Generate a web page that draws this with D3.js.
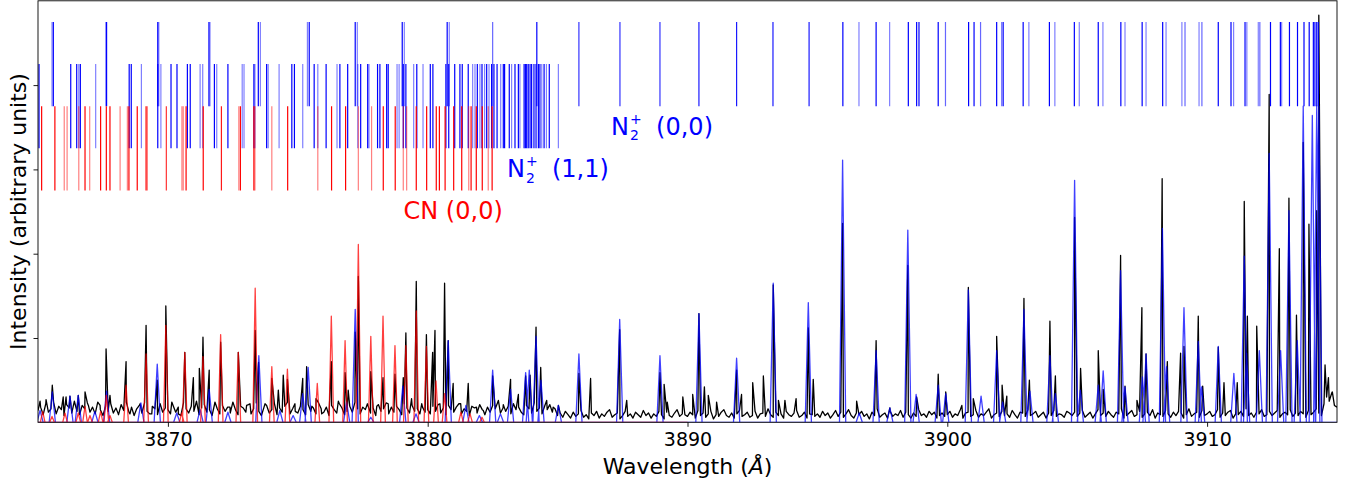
<!DOCTYPE html>
<html><head><meta charset="utf-8">
<script src="https://cdn.jsdelivr.net/npm/d3@7"></script>
<style>body{margin:0;background:#fff}svg{display:block}text{font-family:"DejaVu Sans",sans-serif}</style>
</head><body><svg id="chart" width="1354" height="484"></svg>
<script>
// ---------------- DATA ----------------
const xDomain = [3865, 3915];
const yDomain = [0, 5];
const xTicks = [3870, 3880, 3890, 3900, 3910];
const yTicks = [1, 2, 3, 4];

// Observed spectrum: baseline samples (hundredths of an intensity unit), 3865.0 .. 3915.0 every 0.1 Å
const baselineStart = 3865.0, baselineStep = 0.1;
const observedBaseline = [
14,18,9,22,12,16,24,10,19,15,8,21,17,11,25,13,9,20,16,23,12,18,10,24,15,8,19,13,22,11,17,9,21,14,24,12,18,8,16,20,11,23,13,10,19,16,9,22,12,17,
15,10,20,12,18,8,23,16,11,19,13,25,9,17,21,12,15,8,22,16,10,20,13,18,11,24,15,9,19,17,12,21,10,16,23,13,8,18,20,11,15,22,9,17,12,19,24,10,16,13,
11,19,15,9,21,13,17,10,23,16,12,18,8,20,15,11,22,17,9,13,19,12,24,16,10,18,15,20,11,17,8,21,13,16,23,10,18,12,19,15,9,22,17,11,20,13,16,10,18,12,
15,10,19,13,21,11,17,9,20,15,12,18,22,10,16,13,8,19,17,11,21,15,9,18,12,20,16,24,11,17,13,19,10,22,15,18,12,9,20,16,11,23,13,17,10,19,15,21,12,16,
8,11,6,13,9,5,12,7,10,14,6,9,4,11,8,13,5,10,7,12,15,6,9,11,4,8,13,7,10,5,12,9,6,14,8,11,5,10,7,13,9,4,12,8,6,11,15,7,10,9,
7,12,9,5,14,8,11,6,10,13,4,9,7,12,15,8,6,11,5,10,14,7,9,12,6,8,13,5,10,11,7,16,9,6,12,8,10,5,13,9,7,11,14,6,8,12,5,10,9,7,
10,6,13,8,11,5,9,14,7,12,6,10,15,8,5,11,9,13,7,10,4,12,8,16,6,9,11,5,13,7,10,8,14,6,12,9,5,11,7,15,8,10,6,13,9,12,5,8,11,7,
9,13,6,10,8,15,5,11,12,7,9,14,6,10,8,12,16,5,9,11,7,13,8,10,6,14,9,5,12,11,7,15,8,10,13,6,9,12,5,11,8,14,7,10,9,6,13,11,8,12,
7,11,14,6,9,12,5,10,15,8,11,7,13,9,6,12,10,16,5,8,11,14,7,9,13,6,10,12,8,15,5,11,9,7,14,10,6,12,8,13,11,5,9,16,7,10,12,6,14,8,
10,13,7,9,15,6,11,8,12,14,5,10,9,13,7,16,8,11,6,12,10,15,7,9,13,8,11,14,6,10,12,9,15,7,11,8,13,10,6,14,9,12,16,11,8,22,30,25,35,20,
18];

// Observed spectrum: line maxima [wavelength Å, intensity]
const observedPeaks = [
[3865.08,0.25],[3865.31,0.27],[3865.55,0.44],[3865.97,0.30],[3866.08,0.30],[3866.23,0.31],[3866.55,0.32],[3866.81,0.36],[3866.94,0.20],[3867.39,0.20],
[3867.62,0.87],[3867.77,0.32],[3868.09,0.10],[3868.39,0.72],[3868.54,0.10],[3868.93,0.22],[3869.16,1.15],[3869.38,0.10],[3869.59,0.50],[3869.92,1.38],
[3870.15,0.24],[3870.40,0.10],[3870.65,0.83],[3870.98,0.53],[3871.21,0.64],[3871.35,1.01],[3871.59,0.62],[3871.81,0.24],[3872.03,0.95],[3872.39,0.18],
[3872.71,0.83],[3873.03,0.20],[3873.16,0.22],[3873.36,1.09],[3873.49,0.71],[3873.74,0.22],[3874.00,0.52],[3874.25,0.38],[3874.44,0.56],[3874.60,0.51],
[3874.89,0.22],[3875.19,0.52],[3875.34,0.66],[3875.54,0.19],[3875.70,0.28],[3875.92,0.10],[3876.29,0.72],[3876.56,0.25],[3876.82,0.59],[3876.94,0.38],
[3877.21,1.07],[3877.33,1.73],[3877.68,0.22],[3877.81,0.60],[3878.04,0.19],[3878.28,0.53],[3878.48,0.22],[3878.74,0.57],[3879.06,0.53],[3879.16,1.06],
[3879.38,0.28],[3879.56,1.67],[3879.77,0.22],[3879.95,1.04],[3880.19,0.83],[3880.28,1.09],[3880.47,0.22],[3880.65,1.65],[3880.79,0.97],[3880.98,0.46],
[3881.27,0.22],[3881.56,0.46],[3881.88,0.18],[3882.14,0.14],[3882.50,0.55],[3882.72,0.26],[3882.91,0.21],[3883.19,0.51],[3883.49,0.33],[3883.77,0.55],
[3883.94,0.56],[3884.17,1.13],[3884.35,0.65],[3884.58,0.26],[3884.83,0.18],[3885.03,0.20],[3885.82,0.58],[3886.27,0.52],[3887.39,1.10],[3887.66,0.26],
[3888.94,0.59],[3889.10,0.45],[3889.22,0.24],[3889.82,0.30],[3890.20,0.33],[3890.44,1.29],[3890.65,0.42],[3890.80,0.32],[3891.12,0.24],[3891.89,0.62],
[3892.08,0.33],[3892.51,0.47],[3892.92,0.55],[3893.30,1.63],[3893.50,0.26],[3893.75,0.26],[3894.18,0.28],[3894.65,1.12],[3894.84,0.51],[3895.97,2.36],
[3896.51,0.25],[3897.26,0.97],[3897.79,0.17],[3898.48,1.86],[3898.82,0.30],[3899.65,0.57],[3899.94,0.36],[3900.56,0.20],[3900.81,1.60],[3901.00,0.28],
[3901.90,1.02],[3902.11,0.44],[3902.29,0.31],[3902.95,1.47],[3903.16,0.50],[3903.95,1.20],[3904.16,0.55],[3904.90,2.43],[3905.13,0.64],[3905.81,0.85],
[3906.00,0.39],[3906.67,1.98],[3906.84,0.43],[3907.30,0.26],[3907.49,1.36],[3907.65,0.81],[3908.27,2.89],[3908.47,0.72],[3908.98,0.82],[3909.11,0.90],
[3909.66,1.26],[3909.83,0.43],[3910.43,0.89],[3910.65,0.47],[3911.16,0.47],[3911.43,2.62],[3911.55,1.26],[3911.91,1.14],[3912.39,3.89],[3912.78,2.06],
[3913.15,2.66],[3913.44,1.27],[3913.70,3.32],[3913.92,2.35],[3914.22,2.51],[3914.30,4.83],[3914.54,0.68],[3914.67,0.53],[3914.82,0.36]];

// Synthetic N2+ spectrum: line maxima [wavelength Å, intensity]
const n2Peaks = [
[3865.08,0.14],[3865.55,0.36],[3866.23,0.31],[3866.55,0.32],[3867.19,0.13],[3867.64,0.37],[3868.96,0.23],[3869.59,0.69],[3870.34,0.11],[3871.24,0.15],
[3871.59,0.39],[3872.31,0.12],[3873.50,0.79],[3874.31,0.14],[3874.82,0.08],[3875.19,0.34],[3875.40,0.65],[3876.88,0.24],[3877.21,1.34],[3877.81,0.06],
[3879.04,0.43],[3879.55,0.10],[3880.79,0.97],[3881.47,0.20],[3881.99,0.08],[3882.50,0.62],[3882.80,0.10],[3883.19,0.39],[3883.77,0.59],[3883.91,0.62],
[3884.17,1.02],[3884.36,0.50],[3885.03,0.20],[3885.82,0.81],[3887.39,1.22],[3888.94,0.79],[3890.44,1.29],[3891.89,0.76],[3893.30,1.65],[3894.65,1.42],
[3895.97,3.11],[3896.61,0.11],[3897.26,0.85],[3897.79,0.17],[3898.48,2.28],[3898.80,0.33],[3899.65,0.44],[3899.94,0.34],[3900.81,1.57],[3901.30,0.31],
[3901.90,0.85],[3902.13,0.24],[3902.95,1.34],[3903.18,0.37],[3903.95,0.79],[3904.16,0.34],[3904.90,2.87],[3905.12,0.38],[3905.81,0.44],[3906.00,0.61],
[3906.67,1.80],[3906.84,0.42],[3907.51,0.54],[3907.65,0.81],[3908.28,2.30],[3908.44,0.66],[3909.11,1.36],[3909.66,0.96],[3909.79,0.42],[3910.43,0.90],
[3911.03,0.58],[3911.43,1.97],[3911.52,0.82],[3912.01,0.85],[3912.39,3.19],[3912.83,0.85],[3913.15,2.51],[3913.47,0.97],[3913.70,3.75],[3914.05,3.64],
[3914.22,3.75],[3914.30,3.75]];

// Synthetic CN spectrum: line maxima [wavelength Å, intensity]
const cnPeaks = [
[3865.18,0.13],[3865.54,0.07],[3866.04,0.11],[3866.55,0.11],[3866.81,0.19],[3867.00,0.08],[3867.41,0.13],[3867.63,0.32],[3867.77,0.08],[3868.39,0.44],
[3869.16,0.81],[3869.92,1.15],[3870.53,0.11],[3870.65,0.83],[3871.35,0.78],[3872.03,1.04],[3872.71,0.83],[3873.36,1.59],[3874.00,0.66],[3874.60,0.63],
[3875.75,0.46],[3876.29,1.26],[3876.82,0.97],[3877.33,2.11],[3877.81,1.02],[3878.28,1.26],[3878.74,0.91],[3879.16,0.91],[3879.56,1.32],[3879.95,0.90],
[3880.32,0.49],[3880.65,0.34],[3881.28,0.12],[3881.63,0.10],[3882.09,0.06]];
const cnRange = [3865, 3890];

// Line positions [wavelength Å, relative strength]
const n2Lines00 = [
[3865.54,0.5],[3865.59,1],[3867.61,0.5],[3867.64,1],[3869.61,1],[3869.65,0.5],[3871.58,1],[3871.62,0.5],[3873.48,1],[3873.56,0.5],
[3875.37,0.5],[3875.44,1],[3877.21,1],[3877.29,0.5],[3879.02,1],[3879.10,0.5],[3880.75,1],[3880.83,0.5],[3882.50,0.6],[3884.20,1],
[3885.82,0.8],[3887.40,0.8],[3888.94,0.8],[3890.44,0.9],[3891.89,0.9],[3893.29,0.9],[3894.68,0.9],[3895.98,1],[3896.60,0.5],[3897.26,1],
[3897.78,0.5],[3898.50,1],[3898.82,1],[3898.91,1],[3899.65,1],[3899.93,0.6],[3900.82,1],[3901.03,1],[3901.28,0.6],[3901.90,1],
[3902.09,0.5],[3902.15,1],[3902.92,1],[3903.14,0.5],[3903.93,1],[3904.14,0.5],[3904.89,1],[3905.08,0.5],[3905.81,1],[3905.99,0.5],
[3906.68,1],[3906.84,0.5],[3907.50,1],[3907.65,0.5],[3908.29,1],[3908.42,0.5],[3909.03,0.5],[3909.15,0.6],[3909.69,0.5],[3909.80,0.6],
[3910.43,1],[3910.92,1],[3911.02,0.5],[3911.46,1],[3911.53,0.5],[3911.97,0.5],[3912.03,0.6],[3912.44,1],[3912.82,1],[3912.87,0.5],
[3913.17,1],[3913.48,1],[3913.73,1],[3913.93,1],[3914.09,1],[3914.15,1],[3914.22,1],[3914.28,1]];

const n2Lines11 = [
[3865.04,1],[3866.26,1],[3866.49,1],[3866.57,0.5],[3866.63,1],[3867.22,0.5],[3868.51,1],[3868.59,1],[3868.98,0.5],[3869.61,1],
[3869.73,0.5],[3870.12,1],[3870.35,1],[3870.75,1],[3870.86,1],[3871.24,0.5],[3871.34,0.5],[3871.79,1],[3871.88,0.5],[3872.31,1],
[3872.86,0.5],[3872.93,0.5],[3873.31,1],[3873.35,0.5],[3873.80,1],[3873.86,0.5],[3874.28,0.5],[3874.77,1],[3874.87,1],[3875.19,0.5],
[3875.63,1],[3875.77,0.5],[3876.09,1],[3876.51,0.5],[3876.62,1],[3876.92,1],[3877.31,0.5],[3877.42,1],[3877.69,1],[3877.74,0.5],
[3878.07,1],[3878.16,1],[3878.42,1],[3878.48,1],[3878.82,0.5],[3878.90,0.5],[3879.06,1],[3879.16,1],[3879.46,0.5],[3879.58,1],
[3879.82,0.5],[3880.10,1],[3880.20,1],[3880.70,1],[3880.81,1],[3881.04,1],[3881.24,1],[3881.33,1],[3881.56,1],[3881.73,0.5],
[3881.82,0.5],[3881.91,1],[3882.01,0.5],[3882.09,1],[3882.19,0.5],[3882.27,1],[3882.36,0.5],[3882.46,1],[3882.55,1],[3882.67,1],
[3882.81,0.5],[3882.91,1],[3882.96,1],[3883.14,1],[3883.23,0.5],[3883.36,1],[3883.49,1],[3883.55,0.5],[3883.71,1],[3883.76,1],
[3883.81,1],[3883.87,1],[3883.94,1],[3884.00,1],[3884.09,1],[3884.17,1],[3884.26,1],[3884.32,1],[3884.39,0.5],[3884.48,1],
[3884.57,0.5],[3884.68,1],[3885.03,0.5]];

const cnLines = [
[3865.14,1],[3865.65,1],[3866.01,0.5],[3866.12,0.5],[3866.57,0.5],[3866.81,1],[3866.99,0.5],[3867.41,1],[3867.63,1],[3867.77,1],
[3868.16,0.5],[3868.44,0.5],[3868.50,1],[3868.82,1],[3869.16,1],[3869.21,0.5],[3869.94,0.8],[3870.54,0.5],[3870.59,0.5],[3870.70,1],
[3871.36,1],[3872.06,0.9],[3872.73,0.5],[3872.79,1],[3873.31,1],[3873.35,0.5],[3874.00,0.5],[3874.61,1],[3875.77,0.5],[3876.30,1],
[3876.84,1],[3877.33,0.5],[3877.84,0.5],[3878.29,1],[3878.75,1],[3879.06,0.5],[3879.19,0.5],[3879.56,1],[3879.96,1],[3880.33,1],
[3880.45,1],[3880.67,1],[3881.00,1],[3881.31,1],[3881.58,0.5],[3881.67,1],[3881.87,1],[3882.10,1],[3882.33,0.5],[3882.48,1]];

// ---------------- CHART ----------------
(function () {
const W = 1354, H = 484;
const pL = 38, pR = 1337, pT = 0.8, pB = 422.3;
const svg = d3.select("#chart");
svg.append("rect").attr("width", W).attr("height", H).attr("fill", "#fff");

const x = d3.scaleLinear().domain(xDomain).range([pL, pR]);
const y = d3.scaleLinear().domain(yDomain).range([pB, pT]);

svg.append("defs").append("clipPath").attr("id", "clip")
  .append("rect").attr("x", pL).attr("y", pT).attr("width", pR - pL).attr("height", pB - pT);
const plot = svg.append("g").attr("clip-path", "url(#clip)");

const line = d3.line().x(d => x(d[0])).y(d => y(d[1]));

// observed (black)
const obsPts = observedBaseline.map((v, i) => [baselineStart + i * baselineStep, v / 100])
  .concat(observedPeaks).sort((a, b) => a[0] - b[0]);
plot.append("path").attr("d", line(obsPts)).attr("fill", "none")
  .attr("stroke", "#000").attr("stroke-width", 1.3).attr("stroke-linejoin", "round");

// synthetic spectra drawn as narrow line profiles
function peakPath(peaks, hw, range) {
  let d = line([[range[0], 0], [range[1], 0]]);
  peaks.forEach(p => { d += line([[p[0] - hw, 0], [p[0], p[1]], [p[0] + hw, 0]]); });
  return d;
}
plot.append("path").attr("d", peakPath(n2Peaks, 0.12, xDomain)).attr("fill", "none")
  .attr("stroke", "#0000ff").attr("stroke-opacity", 0.75).attr("stroke-width", 1.3).attr("stroke-linejoin", "round");
plot.append("path").attr("d", peakPath(cnPeaks, 0.09, cnRange)).attr("fill", "none")
  .attr("stroke", "#ff0000").attr("stroke-opacity", 0.75).attr("stroke-width", 1.3).attr("stroke-linejoin", "round");

// stick lines
function sticks(data, y0, y1, color) {
  plot.append("g").selectAll("line").data(data).join("line")
    .attr("x1", d => x(d[0])).attr("x2", d => x(d[0]))
    .attr("y1", y(y0)).attr("y2", y(y1))
    .attr("stroke", color).attr("stroke-width", 1.2).attr("stroke-opacity", d => d[1]);
}
sticks(n2Lines00, 3.75, 4.75, "#0000ff");
sticks(n2Lines11, 3.25, 4.25, "#0000ff");
sticks(cnLines, 2.75, 3.75, "#ff0000");

// axes
const xAxis = svg.append("g").attr("transform", `translate(0,${pB})`)
  .call(d3.axisBottom(x).tickValues(xTicks).tickFormat(d3.format("d")).tickSize(4.5).tickSizeOuter(0).tickPadding(6));
xAxis.select(".domain").remove();
xAxis.selectAll("line").attr("stroke", "#000").attr("stroke-width", 0.9);
xAxis.selectAll("text").attr("font-size", 19).attr("fill", "#000").style("font-family", "DejaVu Sans");

const yAxis = svg.append("g").attr("transform", `translate(${pL},0)`)
  .call(d3.axisLeft(y).tickValues(yTicks).tickFormat("").tickSize(4.5).tickSizeOuter(0));
yAxis.select(".domain").remove();
yAxis.selectAll("line").attr("stroke", "#000").attr("stroke-width", 0.9);

svg.append("rect").attr("x", pL).attr("y", pT).attr("width", pR - pL).attr("height", pB - pT)
  .attr("fill", "none").attr("stroke", "#000").attr("stroke-width", 0.9);

// axis labels
svg.append("text").attr("x", (pL + pR) / 2).attr("y", 474).attr("text-anchor", "middle")
  .attr("font-size", 22).attr("fill", "#000")
  .html('Wavelength (<tspan font-style="italic">Å</tspan>)');
svg.append("text").attr("transform", `translate(26,${(pT + pB) / 2}) rotate(-90)`).attr("text-anchor", "middle")
  .attr("font-size", 22).attr("fill", "#000").text("Intensity (arbitrary units)");

// band labels (single text element, sub/superscript via tspans)
function n2Label(lx, ly, tail) {
  const px = x(lx), py = y(ly);
  const t = svg.append("text").attr("x", px).attr("y", py).attr("font-size", 24).attr("fill", "#0000ff");
  const n = t.append("tspan").text("N");
  const w = n.node().getComputedTextLength();
  t.append("tspan").attr("x", px + w + 1).attr("y", py + 5.5).attr("font-size", 14).text("2");
  t.append("tspan").attr("x", px + w + 1).attr("y", py - 11).attr("font-size", 14).text("+");
  t.append("tspan").attr("x", px + 45).attr("y", py).text(tail);
}
n2Label(3887.06, 3.41, "(0,0)");
n2Label(3883.05, 2.906, "(1,1)");
svg.append("text").attr("x", x(3879.07)).attr("y", y(2.41)).attr("font-size", 24)
  .attr("fill", "#ff0000").text("CN (0,0)");
})();
</script></body></html>
